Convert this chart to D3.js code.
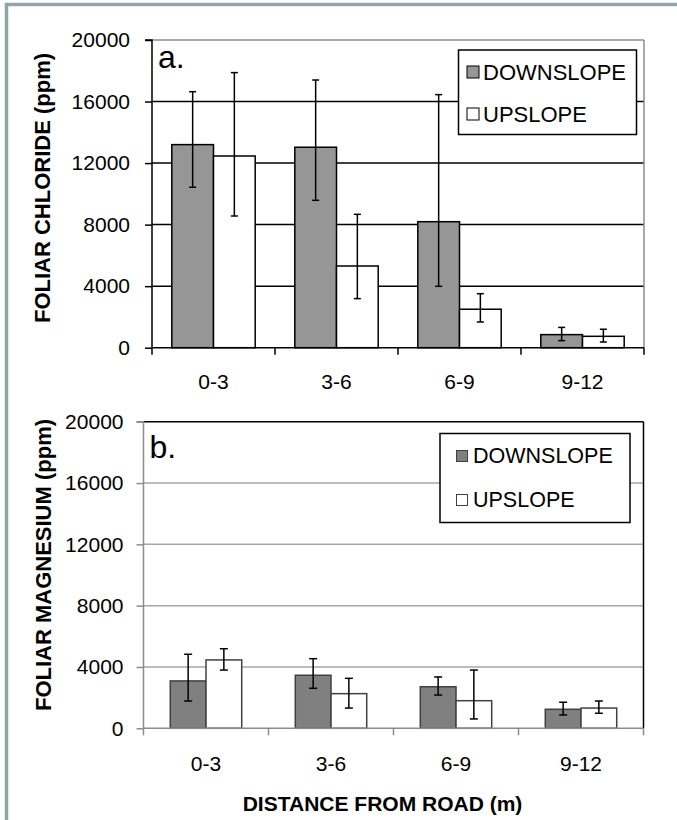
<!DOCTYPE html>
<html><head><meta charset="utf-8">
<script src="https://cdn.jsdelivr.net/npm/d3@7"></script>
<style>
html,body{margin:0;padding:0;background:#fff;}
svg{display:block;font-family:"Liberation Sans",Arial,sans-serif;}
</style></head>
<body>
<svg id="chart" width="677" height="820"></svg>
<script>
// ---- data ----
const categories = ["0-3", "3-6", "6-9", "9-12"];
const seriesNames = ["DOWNSLOPE", "UPSLOPE"];
const yTicks = [0, 4000, 8000, 12000, 16000, 20000];

// panel a: foliar chloride (ppm)
const chlorideDown = [13200, 13030, 8190, 850];
const chlorideDownLow = [10430, 9580, 3990, 460];
const chlorideDownHigh = [16640, 17400, 16450, 1320];
const chlorideUp = [12460, 5310, 2500, 740];
const chlorideUpLow = [8560, 3190, 1670, 370];
const chlorideUpHigh = [17880, 8670, 3510, 1200];

// panel b: foliar magnesium (ppm)
const magnesiumDown = [3090, 3460, 2710, 1240];
const magnesiumDownLow = [1780, 2610, 2170, 870];
const magnesiumDownHigh = [4830, 4540, 3350, 1700];
const magnesiumUp = [4460, 2260, 1800, 1320];
const magnesiumUpLow = [3800, 1320, 610, 980];
const magnesiumUpHigh = [5190, 3260, 3800, 1780];

const svg = d3.select("#chart");

// outer frame
svg.append("path").attr("d", "M6.5,820 L6.5,4.5 L677,4.5")
  .attr("fill", "none").attr("stroke", "#8da6a8").attr("stroke-width", 3.5);

function panel(cfg) {
  const g = svg.append("g");
  const x = d3.scaleBand().domain(categories).range([cfg.left, cfg.right]).padding(0);
  const y = d3.scaleLinear().domain([0, 20000]).range([cfg.bottom, cfg.top]);
  const step = x.bandwidth();
  const bw = step / (2 + cfg.gap);
  const off = step * cfg.gap / 2 / (2 + cfg.gap);

  // gridlines
  g.append("g").selectAll("line").data(yTicks.filter(t => t > 0 && t < 20000)).join("line")
    .attr("x1", cfg.left).attr("x2", cfg.right)
    .attr("y1", d => y(d)).attr("y2", d => y(d))
    .attr("stroke", cfg.gridColor).attr("stroke-width", 1.5);
  // top border & right border
  g.append("line").attr("x1", cfg.left).attr("x2", cfg.right).attr("y1", y(20000)).attr("y2", y(20000))
    .attr("stroke", cfg.frameColor).attr("stroke-width", 1.5);
  g.append("line").attr("x1", cfg.right).attr("x2", cfg.right).attr("y1", y(20000)).attr("y2", y(0))
    .attr("stroke", cfg.frameColor).attr("stroke-width", 1.5);

  // bars
  const series = [
    {vals: cfg.down, lo: cfg.downLo, hi: cfg.downHi, fill: cfg.downFill, i: 0},
    {vals: cfg.up, lo: cfg.upLo, hi: cfg.upHi, fill: "#ffffff", i: 1}
  ];
  series.forEach(s => {
    g.append("g").selectAll("rect").data(categories).join("rect")
      .attr("x", c => x(c) + off + s.i * bw)
      .attr("y", (c, k) => y(s.vals[k]))
      .attr("width", bw)
      .attr("height", (c, k) => y(0) - y(s.vals[k]))
      .attr("fill", s.fill).attr("stroke", cfg.barStroke).attr("stroke-width", 1.5);
  });
  // error bars
  series.forEach(s => {
    const eg = g.append("g").attr("stroke", "#000").attr("stroke-width", 1.5);
    categories.forEach((c, k) => {
      const cx = x(c) + off + s.i * bw + bw / 2;
      eg.append("line").attr("x1", cx).attr("x2", cx).attr("y1", y(s.lo[k])).attr("y2", y(s.hi[k]));
      eg.append("line").attr("x1", cx - cfg.cap).attr("x2", cx + cfg.cap).attr("y1", y(s.lo[k])).attr("y2", y(s.lo[k]));
      eg.append("line").attr("x1", cx - cfg.cap).attr("x2", cx + cfg.cap).attr("y1", y(s.hi[k])).attr("y2", y(s.hi[k]));
    });
  });

  // y axis
  const yAxis = d3.axisLeft(y).tickValues(yTicks).tickSize(7).tickPadding(cfg.labelPad).tickFormat(d3.format("d"));
  const ya = g.append("g").attr("transform", `translate(${cfg.left},0)`).call(yAxis);
  ya.select(".domain").attr("stroke", cfg.axisColor).attr("stroke-width", 1.5).attr("d", `M-7,${y(20000)}H0V${y(0)}`);
  ya.selectAll(".tick line").attr("stroke", cfg.axisColor).attr("stroke-width", 1.5);
  ya.selectAll(".tick text").attr("font-size", 21).attr("fill", "#000")
    .attr("font-family", "'Liberation Sans',Arial,sans-serif");

  // x axis
  const xAxis = d3.axisBottom(x).tickSize(0).tickPadding(0);
  const xa = g.append("g").attr("transform", `translate(0,${cfg.bottom})`).call(xAxis);
  xa.select(".domain").attr("stroke", cfg.axisColor).attr("stroke-width", 1.5)
    .attr("d", `M${cfg.left},0H${cfg.right}`);
  xa.selectAll(".tick text").attr("font-size", 21).attr("fill", "#000")
    .attr("dy", null).attr("y", cfg.catY - cfg.bottom).attr("dominant-baseline", "central")
    .attr("font-family", "'Liberation Sans',Arial,sans-serif");
  // category boundary ticks
  const bounds = categories.map(c => x(c)).concat([cfg.right]);
  g.append("g").selectAll("line").data(bounds).join("line")
    .attr("x1", d => d).attr("x2", d => d).attr("y1", cfg.bottom).attr("y2", cfg.bottom + 7)
    .attr("stroke", cfg.axisColor).attr("stroke-width", 1.5);

  // y title
  g.append("text").attr("transform", `translate(${cfg.titleX},${cfg.titleY}) rotate(-90)`)
    .attr("text-anchor", "middle").attr("dominant-baseline", "central")
    .attr("font-size", 22).attr("font-weight", "bold").text(cfg.title);

  // panel letter
  g.append("text").attr("x", cfg.left + 6).attr("y", cfg.letterY)
    .attr("font-size", 32).text(cfg.letter);

  // legend
  const L = cfg.legend;
  g.append("rect").attr("x", L.x).attr("y", L.y).attr("width", L.w).attr("height", L.h)
    .attr("fill", "#fff").attr("stroke", "#000").attr("stroke-width", 1.5);
  seriesNames.forEach((name, k) => {
    const cy = L.rows[k];
    g.append("rect").attr("x", L.sx).attr("y", cy - L.ss / 2).attr("width", L.ss).attr("height", L.ss)
      .attr("fill", k === 0 ? cfg.downFill : "#fff").attr("stroke", cfg.barStroke).attr("stroke-width", 1);
    g.append("text").attr("x", L.tx).attr("y", cy).attr("dominant-baseline", "central")
      .attr("font-size", L.fs).text(name);
  });
}

panel({
  left: 152, right: 644, top: 40, bottom: 347.7, gap: 0.95,
  down: chlorideDown, downLo: chlorideDownLow, downHi: chlorideDownHigh,
  up: chlorideUp, upLo: chlorideUpLow, upHi: chlorideUpHigh,
  downFill: "#969696", barStroke: "#000", gridColor: "#000", frameColor: "#8c8c8c", axisColor: "#000",
  cap: 3.5, labelPad: 15, catY: 382, title: "FOLIAR CHLORIDE (ppm)", titleX: 42, titleY: 188,
  letter: "a.", letterY: 68,
  legend: {x: 458.5, y: 50, w: 178, h: 84.5, sx: 467, ss: 12, tx: 483, rows: [72, 114], fs: 22}
});

panel({
  left: 143.5, right: 643.5, top: 421.7, bottom: 728.3, gap: 1.5,
  down: magnesiumDown, downLo: magnesiumDownLow, downHi: magnesiumDownHigh,
  up: magnesiumUp, upLo: magnesiumUpLow, upHi: magnesiumUpHigh,
  downFill: "#808080", barStroke: "#404040", gridColor: "#a6a6a6", frameColor: "#000", axisColor: "#8c8c8c",
  cap: 4, labelPad: 13, catY: 763.5, title: "FOLIAR MAGNESIUM (ppm)", titleX: 43, titleY: 565,
  letter: "b.", letterY: 458,
  legend: {x: 440, y: 433.5, w: 190, h: 89, sx: 456.5, ss: 11, tx: 473, rows: [456, 500], fs: 21.5}
});

// x axis title
svg.append("text").attr("x", 382.5).attr("y", 803).attr("text-anchor", "middle")
  .attr("dominant-baseline", "central").attr("font-size", 21).attr("font-weight", "bold")
  .text("DISTANCE FROM ROAD (m)");
</script>
</body></html>
